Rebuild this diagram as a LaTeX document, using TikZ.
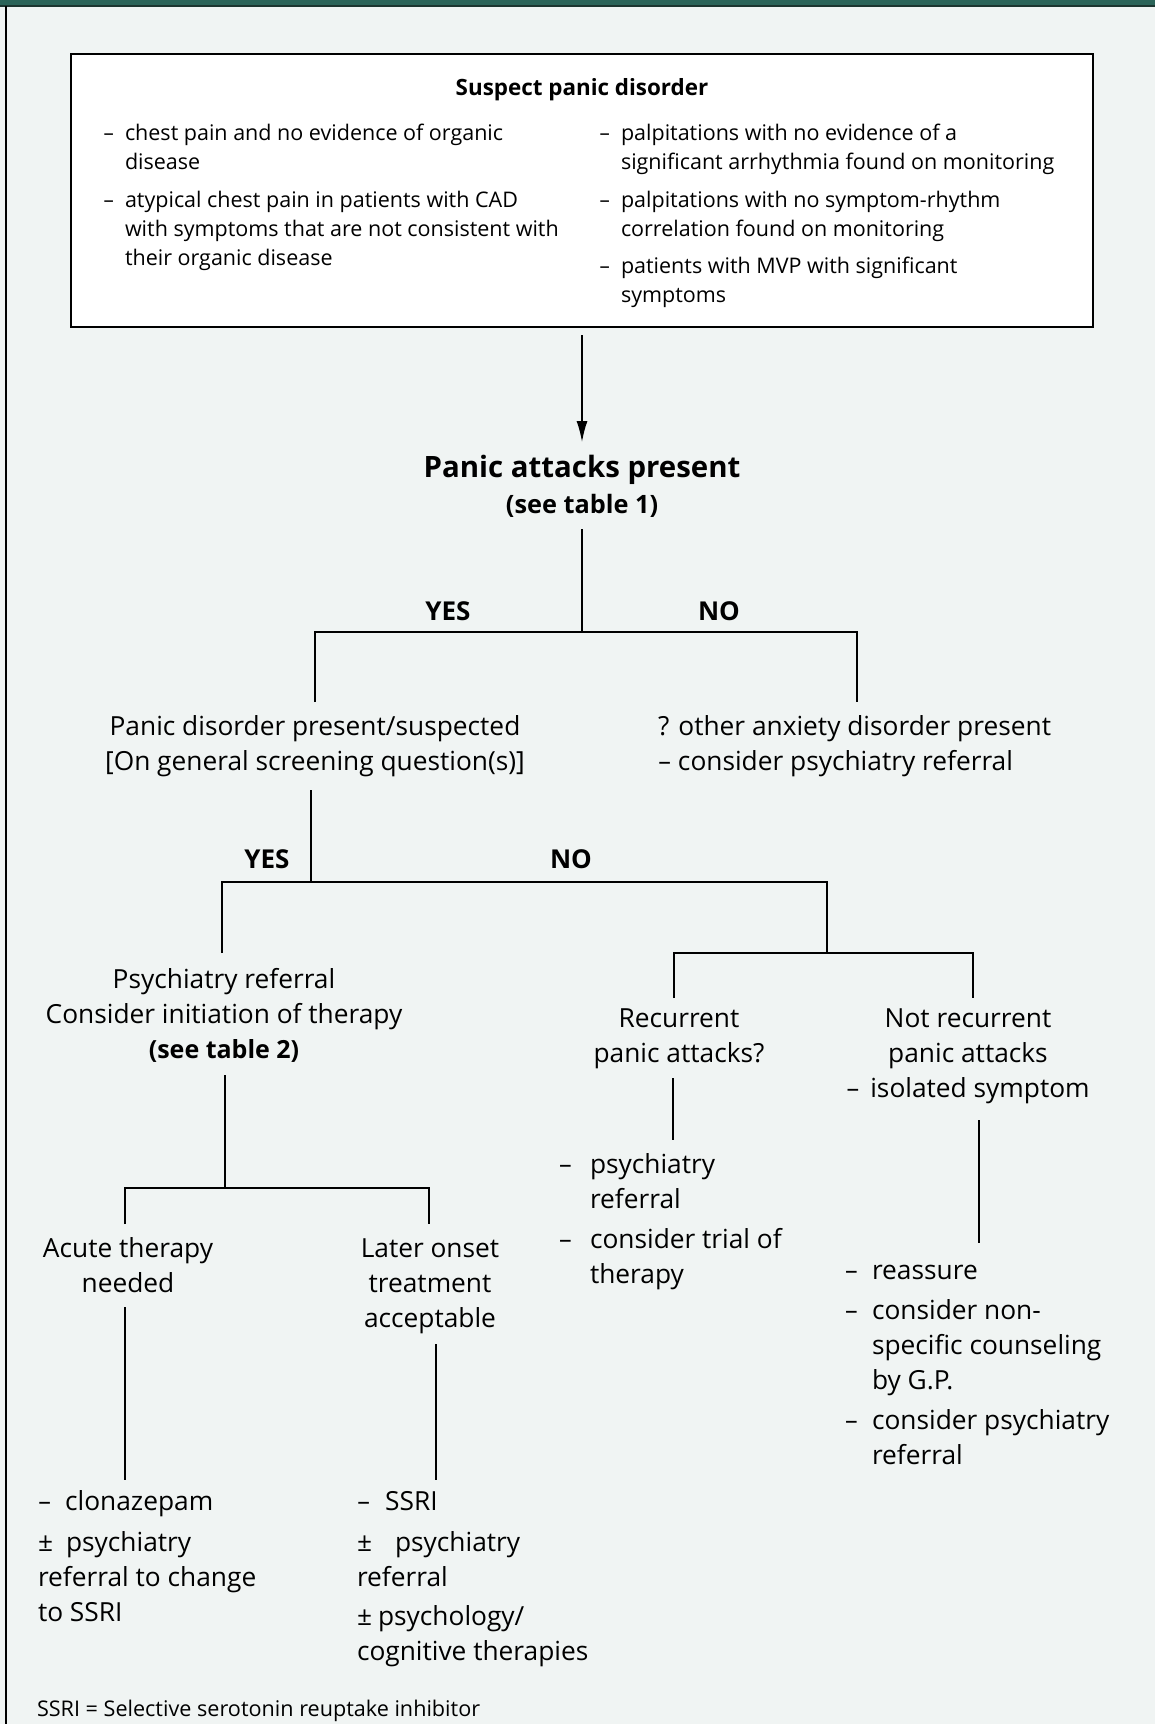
\documentclass[tikz,border=0pt]{standalone}
\usepackage{fontspec}
\setmainfont{Open Sans}
\newfontfamily\dashfont{DejaVu Sans}
\usetikzlibrary{arrows.meta}
\definecolor{bgc}{HTML}{F0F4F3}
\definecolor{bandc}{HTML}{2B6459}
\definecolor{bandlinec}{HTML}{1C3530}
\newcommand\dsh{{\dashfont –}}
\newcommand\hd[1]{\llap{\dsh\hspace{#1}}}
\newcommand\tabl[1]{\begin{tabular}[t]{@{}l@{}}#1\end{tabular}}
\newcommand\tabc[1]{\begin{tabular}[t]{@{}c@{}}#1\end{tabular}}
\tikzset{
  every node/.style={inner sep=0pt, outer sep=0pt},
  boxtext/.style={font=\fontsize{21.5}{29}\selectfont, anchor=base west},
  boxhead/.style={font=\fontsize{22.4}{29}\selectfont\bfseries, anchor=base},
  lbl/.style={font=\fontsize{26.3}{35}\selectfont, anchor=base},
  lblw/.style={font=\fontsize{26.3}{35}\selectfont, anchor=base west},
  yn/.style={font=\fontsize{26}{35}\selectfont\bfseries, anchor=base},
  conn/.style={line width=1.5pt, black},
}
\begin{document}
\begin{tikzpicture}[x=1pt,y=-1pt]
\useasboundingbox (0,0) rectangle (1155,1724);
\fill[bgc] (0,0) rectangle (1155,1724);
\fill[bandc] (0,0) rectangle (1155,5);
\draw[bandlinec, line width=2pt] (0,6) -- (1155,6);
\draw[line width=1.5pt] (6,6) -- (6,1724);

% top box
\node[draw, fill=white, line width=1.2pt, minimum width=1022pt, minimum height=273pt] (box) at (582,190.5) {};
\node[boxhead] (title) at (582,95) {Suspect panic disorder};
\node[boxtext] (l1) at (125,140) {\tabl{\hd{11pt}chest pain and no evidence of organic\\disease}};
\node[boxtext] (l2) at (125,207) {\tabl{\hd{11pt}atypical chest pain in patients with CAD\\with symptoms that are not consistent with\\their organic disease}};
\node[boxtext] (r1) at (621,140) {\tabl{\hd{11pt}palpitations with no evidence of a\\significant arrhythmia found on monitoring}};
\node[boxtext] (r2) at (621,207) {\tabl{\hd{11pt}palpitations with no symptom-rhythm\\correlation found on monitoring}};
\node[boxtext] (r3) at (621,273) {\tabl{\hd{11pt}patients with MVP with significant\\symptoms}};

% level 1
\node[font=\fontsize{25.3}{36}\selectfont\bfseries, anchor=base] (pap) at (582,477)
  {\tabc{{\fontsize{29.4}{36}\selectfont Panic attacks present}\\(see table 1)}};
\node[yn] (yes1) at (448,620) {YES};
\node[yn] (no1) at (719,620) {NO};

\node[lbl] (pd) at (315,735) {\tabc{Panic disorder present/suspected\\{[On general screening question(s)]}}};
\node[lblw] (oad) at (658,735) {\tabl{? other anxiety disorder present\\\dsh{} consider psychiatry referral}};

\node[yn] (yes2) at (267,868) {YES};
\node[yn] (no2) at (571,868) {NO};

\node[lbl] (pr) at (224,988) {\tabc{Psychiatry referral\\Consider initiation of therapy\\{\fontsize{25}{35}\selectfont\bfseries (see table 2)}}};
\node[lbl] (rec) at (679,1027) {\tabc{Recurrent\\panic attacks?}};
\node[lbl] (nrec) at (968,1027) {\tabc{Not recurrent\\panic attacks\\\dsh{}\hspace{4pt} isolated symptom}};

\node[lblw] (recact) at (590,1173) {\tabl{\hd{18pt}psychiatry\\referral\\[5pt]\hd{18pt}consider trial of\\therapy}};
\node[lbl] (acute) at (128,1257) {\tabc{Acute therapy\\needed}};
\node[lbl] (later) at (430,1257) {\tabc{Later onset\\treatment\\acceptable}};
\node[lblw] (nrecact) at (872,1279) {\tabl{\hd{14pt}reassure\\[5pt]\hd{14pt}consider non-\\specific counseling\\by G.P.\\[5pt]\hd{14pt}consider psychiatry\\referral}};

\node[lblw] (acuteact) at (38,1510) {\tabl{\dsh\hspace{14pt}clonazepam\\[6pt]±\hspace{13pt}psychiatry\\referral to change\\to SSRI}};
\node[lblw] (lateract) at (357,1510) {\tabl{\dsh\hspace{15pt}SSRI\\[6pt]±\hspace{23pt}psychiatry\\referral\\[4pt]±\hspace{6pt}psychology/\\cognitive therapies}};

\node[font=\fontsize{21.6}{24}\selectfont, anchor=base west] (foot) at (37,1716) {SSRI = Selective serotonin reuptake inhibitor};

% connector coordinates
\coordinate (a0) at (582,335); \coordinate (a1) at (582,442);
\coordinate (j1top) at (582,529); \coordinate (j1) at (582,632);
\coordinate (j1lb) at (315,702); \coordinate (j1rb) at (857,702);
\coordinate (j2top) at (311,790); \coordinate (j2) at (311,882);
\coordinate (j2lb) at (222,953); \coordinate (j3) at (827,953);
\coordinate (j3lb) at (674,998); \coordinate (j3rb) at (973,998);
\coordinate (j4top) at (225,1075); \coordinate (j4) at (225,1188);
\coordinate (j4lb) at (125,1224); \coordinate (j4rb) at (429,1224);
\coordinate (r1top) at (673,1078); \coordinate (r1b) at (673,1140);
\coordinate (r2top) at (979,1120); \coordinate (r2b) at (979,1243);
\coordinate (c1top) at (125,1307); \coordinate (c1b) at (125,1480);
\coordinate (c2top) at (436,1344); \coordinate (c2b) at (436,1480);

\draw[conn, -{Latex[length=21pt,width=11pt]}] (a0) -- (a1);
\draw[conn] (j1top) -- (j1);
\draw[conn] (j1lb) |- (j1) -| (j1rb);
\draw[conn] (j2top) -- (j2);
\draw[conn] (j2lb) |- (j2) -| (j3);
\draw[conn] (j3lb) |- (j3) -| (j3rb);
\draw[conn] (j4top) -- (j4);
\draw[conn] (j4lb) |- (j4) -| (j4rb);
\draw[conn] (r1top) -- (r1b);
\draw[conn] (r2top) -- (r2b);
\draw[conn] (c1top) -- (c1b);
\draw[conn] (c2top) -- (c2b);
\end{tikzpicture}
\end{document}
